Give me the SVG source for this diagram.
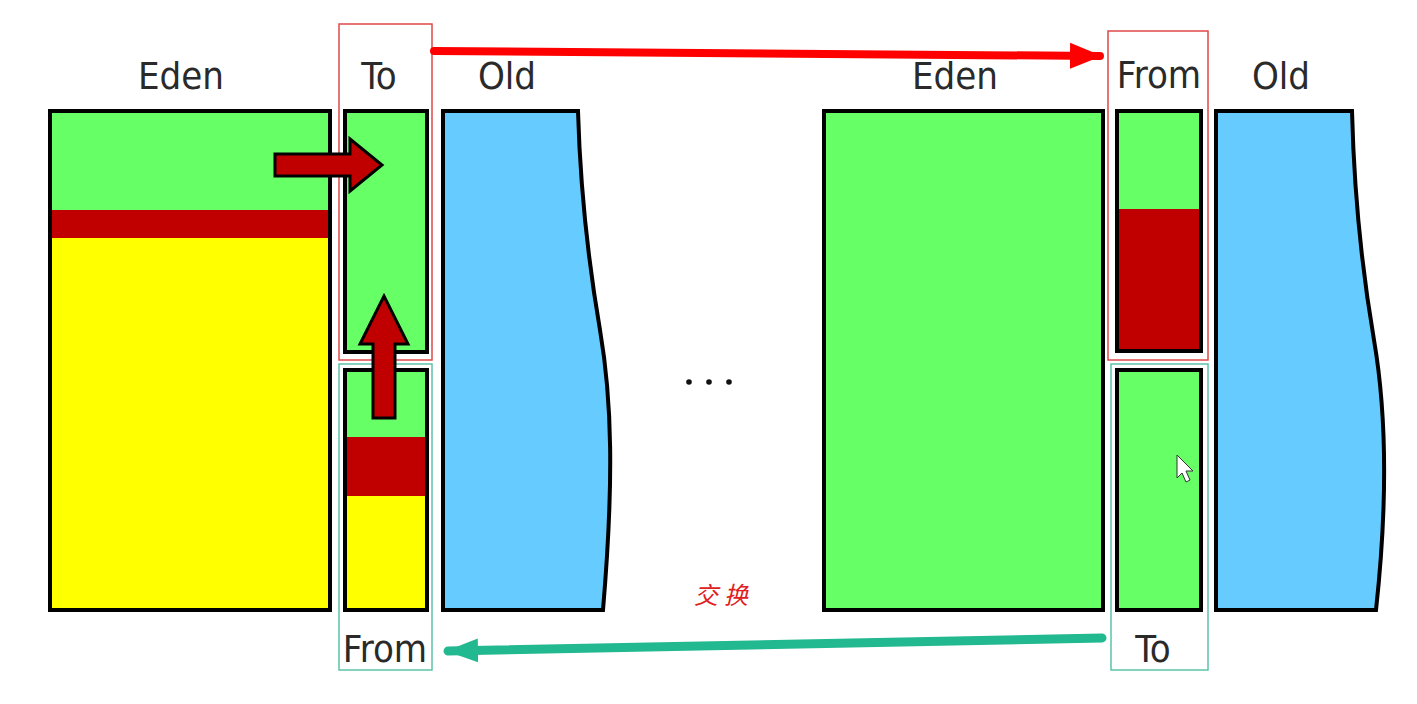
<svg xmlns="http://www.w3.org/2000/svg" width="1417" height="704" viewBox="0 0 1417 704">
<style>
.lbl{font-family:"Liberation Sans Narrow","DejaVu Sans Condensed","Liberation Sans",sans-serif;font-size:38px;fill:#2a2a2a;text-anchor:middle}
.box{stroke:#000;stroke-width:4}
.g{fill:#66ff66}
.r{fill:#c00000}
.y{fill:#ffff00}
.b{fill:#66ccff}
.redframe{fill:none;stroke:#e04848;stroke-width:1.5}
.tealframe{fill:none;stroke:#5cc4a8;stroke-width:1.5}
.sarrow{fill:#c00000;stroke:#000;stroke-width:3;stroke-linejoin:miter}
</style>
<defs>
<marker id="redHead" markerWidth="32" markerHeight="28" refX="30" refY="14" orient="auto" markerUnits="userSpaceOnUse"><path d="M0,1 L32,14 L0,27 Z" fill="#ff0000"/></marker>
<marker id="tealHead" markerWidth="32" markerHeight="26" refX="30" refY="13" orient="auto" markerUnits="userSpaceOnUse"><path d="M0,1 L32,13 L0,25 Z" fill="#22b890"/></marker>
</defs>
<rect width="1417" height="704" fill="#fff"/>

<g id="left-eden">
<rect x="50" y="111" width="280" height="99" class="g"/>
<rect x="50" y="210" width="280" height="28" class="r"/>
<rect x="50" y="238" width="280" height="372" class="y"/>
<rect x="50" y="111" width="280" height="499" fill="none" class="box"/>
<text x="181" y="89" class="lbl">Eden</text>
</g>

<g id="left-to">
<rect x="345" y="111" width="82" height="241" class="g box"/>
<text x="379" y="89" class="lbl">To</text>
<rect x="339" y="24" width="93" height="336" class="redframe"/>
</g>

<g id="left-from">
<rect x="345" y="370" width="82" height="67" class="g"/>
<rect x="345" y="437" width="82" height="59" class="r"/>
<rect x="345" y="496" width="82" height="114" class="y"/>
<rect x="345" y="370" width="82" height="240" fill="none" class="box"/>
<text x="385" y="662" class="lbl">From</text>
<rect x="339" y="364" width="93" height="306" class="tealframe"/>
</g>

<g id="left-old">
<path d="M443,111 L578,111 C580,180 588,260 600,330 C612,400 614,480 603,610 L443,610 Z" class="b box"/>
<text x="507" y="89" class="lbl">Old</text>
</g>

<g id="ellipsis">
<circle cx="689" cy="382" r="2.8" fill="#111"/>
<circle cx="709" cy="382" r="2.8" fill="#111"/>
<circle cx="729" cy="382" r="2.8" fill="#111"/>
</g>

<g id="right-eden">
<rect x="824" y="111" width="279" height="499" class="g box"/>
<text x="955" y="89" class="lbl">Eden</text>
</g>

<g id="right-from">
<rect x="1117" y="111" width="84" height="98" class="g"/>
<rect x="1117" y="209" width="84" height="142" class="r"/>
<rect x="1117" y="111" width="84" height="240" fill="none" class="box"/>
<text x="1159" y="88" class="lbl">From</text>
<rect x="1108" y="31" width="100" height="329" class="redframe"/>
</g>

<g id="right-to">
<rect x="1117" y="370" width="84" height="240" class="g box"/>
<text x="1153" y="662" class="lbl">To</text>
<rect x="1111" y="364" width="97" height="306" class="tealframe"/>
</g>

<g id="right-old">
<path d="M1216,111 L1352,111 C1354,190 1362,270 1374,340 C1386,410 1388,500 1376,610 L1216,610 Z" class="b box"/>
<text x="1281" y="89" class="lbl">Old</text>
</g>

<g id="connectors">
<path d="M275,154 L350,154 L350,139 L382,165 L350,191 L350,176 L275,176 Z" class="sarrow"/>
<path d="M373,418 L373,344 L360,344 L384,296 L408,344 L395,344 L395,418 Z" class="sarrow"/>
<line x1="434" y1="51" x2="1100" y2="56" stroke="#ff0000" stroke-width="8" stroke-linecap="round" marker-end="url(#redHead)"/>
<line x1="1102" y1="638" x2="448" y2="651" stroke="#22b890" stroke-width="9" stroke-linecap="round" marker-end="url(#tealHead)"/>
<text x="724" y="604" font-family="Noto Sans CJK SC, sans-serif" font-size="24" font-style="italic" fill="#e02020" text-anchor="middle" letter-spacing="6">交换</text>
</g>

<g id="cursor">
<path d="M1177,455 L1177,478 L1182,473 L1186,482 L1190,480 L1186,471 L1193,471 Z" fill="#fff" stroke="#333" stroke-width="1"/>
</g>
</svg>
